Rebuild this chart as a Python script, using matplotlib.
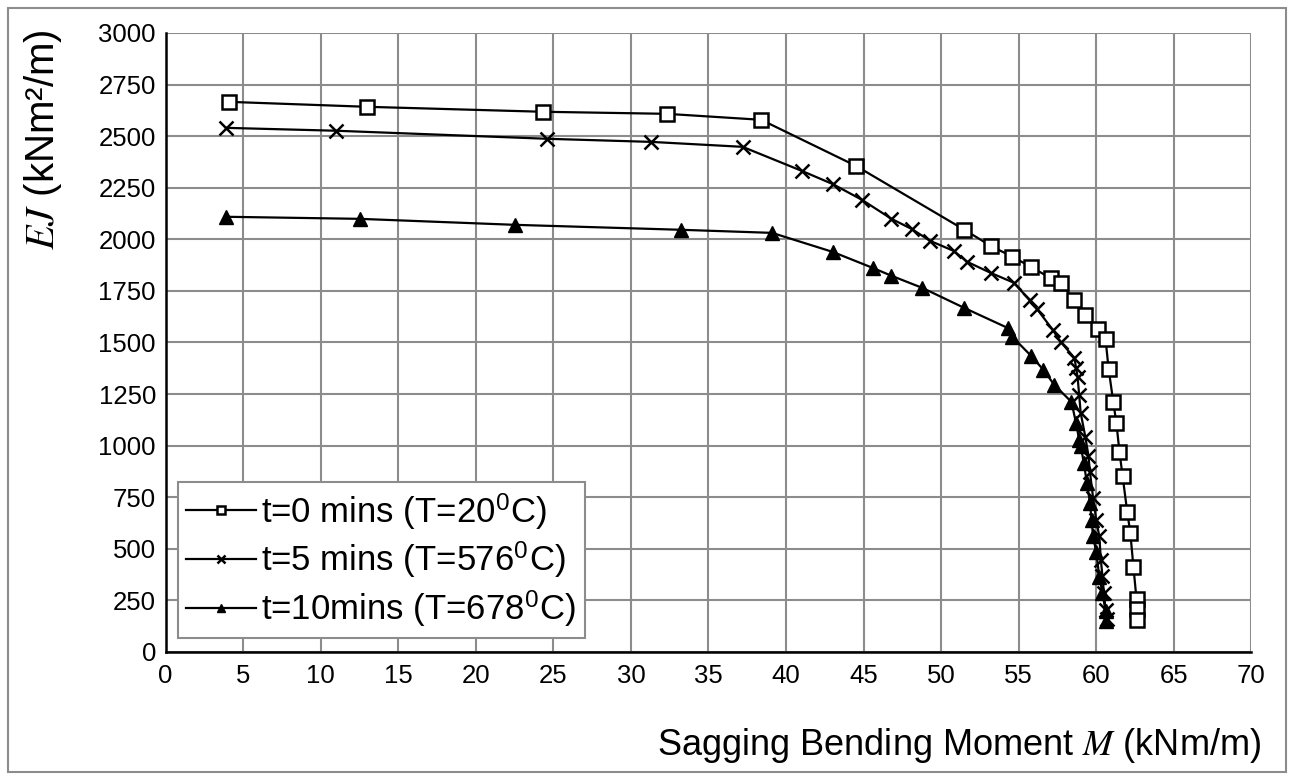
import matplotlib
matplotlib.use("Agg")
import matplotlib.pyplot as plt
from matplotlib.patches import Rectangle

# t = 0 mins (T = 20 C)
m_t0 = [4.1, 13.0, 24.3, 32.3, 38.4, 44.5, 51.5, 53.2, 54.6, 55.8, 57.1, 57.7, 58.6, 59.3,
        60.1, 60.6, 60.8, 61.1, 61.3, 61.5, 61.7, 62.0, 62.2, 62.4, 62.6, 62.6, 62.6]
ej_t0 = [2666, 2642, 2618, 2608, 2579, 2356, 2046, 1968, 1915, 1866, 1810, 1789, 1706, 1634,
         1566, 1517, 1372, 1212, 1110, 970, 853, 679, 577, 412, 255, 210, 155]

# t = 5 mins (T = 576 C)
m_t5 = [3.9, 11.0, 24.6, 31.3, 37.2, 41.0, 43.0, 44.9, 46.8, 48.1, 49.3, 50.8, 51.7, 53.2,
        54.7, 55.7, 56.2, 57.2, 57.7, 58.6, 58.7, 58.8, 58.9, 59.0, 59.3, 59.5, 59.6, 59.8,
        60.0, 60.2, 60.3, 60.4, 60.5, 60.6, 60.7]
ej_t5 = [2540, 2526, 2487, 2472, 2448, 2332, 2268, 2191, 2099, 2050, 1992, 1944, 1890, 1837,
         1789, 1705, 1660, 1561, 1503, 1425, 1377, 1333, 1246, 1158, 1042, 950, 870, 746,
         640, 560, 446, 370, 285, 204, 160]

# t = 10 mins (T = 678 C)
m_t10 = [3.9, 12.5, 22.5, 33.2, 39.1, 43.0, 45.6, 46.8, 48.8, 51.5, 54.3, 54.6, 55.8, 56.6,
         57.3, 58.4, 58.7, 58.9, 59.0, 59.2, 59.4, 59.6, 59.7, 59.8, 60.0, 60.2, 60.4, 60.6, 60.6]
ej_t10 = [2109, 2099, 2070, 2046, 2031, 1939, 1861, 1823, 1764, 1667, 1570, 1527, 1435, 1367,
          1294, 1212, 1110, 1028, 1000, 916, 820, 722, 640, 560, 485, 364, 286, 200, 150]

labels = [r't=0 mins (T=20$^\mathregular{0}$C)',
          r't=5 mins (T=576$^\mathregular{0}$C)',
          r't=10mins (T=678$^\mathregular{0}$C)']

plt.rcParams['font.family'] = ['Liberation Sans', 'DejaVu Sans']
plt.rcParams['mathtext.fontset'] = 'stix'
plt.rcParams['font.size'] = 18

fig = plt.figure(figsize=(12.94, 7.77), dpi=100)
ax = fig.add_axes([0.128, 0.161, 0.839, 0.7966])

ax.plot(m_t0, ej_t0, color='black', lw=1.6, marker='s', ms=9.5, mfc='white', mec='black',
        mew=1.8, label=labels[0])
ax.plot(m_t5, ej_t5, color='black', lw=1.6, marker='x', ms=10, mew=1.8, label=labels[1])
ax.plot(m_t10, ej_t10, color='black', lw=1.6, marker='^', ms=10.5, mfc='black', mec='black',
        label=labels[2])

ax.set_xlim(0, 70)
ax.set_ylim(0, 3000)
ax.set_xticks(range(0, 71, 5))
ax.set_yticks(range(0, 3001, 250))
ax.grid(True, color='#8c8c8c', lw=1.5)
ax.set_axisbelow(True)
ax.tick_params(length=0, labelsize=18.5)
ax.tick_params(axis='y', pad=7)
ax.tick_params(axis='x', pad=9)
for s in ['top', 'right']:
    ax.spines[s].set_visible(False)
for s in ['left', 'bottom']:
    ax.spines[s].set_linewidth(1.8)

fig.text(0.975, 0.041, r'Sagging Bending Moment $M$ (kNm/m)', ha='right', va='center',
         fontsize=26)
fig.text(0.033, 0.962, r'$EJ$ (kNm²/m)', rotation=90, ha='center', va='top', fontsize=29)

leg = ax.legend(loc='lower left', bbox_to_anchor=(0.011, 0.023), borderaxespad=0,
                fontsize=25, markerscale=0.6, fancybox=False, framealpha=1,
                edgecolor='#8c8c8c', handlelength=2.0, borderpad=0.25, labelspacing=0.22,
                handletextpad=0.15)
leg.get_frame().set_linewidth(1.5)

fig.patches.append(Rectangle((0.006, 0.006), 0.988, 0.984, transform=fig.transFigure,
                             fill=False, edgecolor='#8c8c8c', lw=1.5))

fig.savefig('out.png', dpi=100)
